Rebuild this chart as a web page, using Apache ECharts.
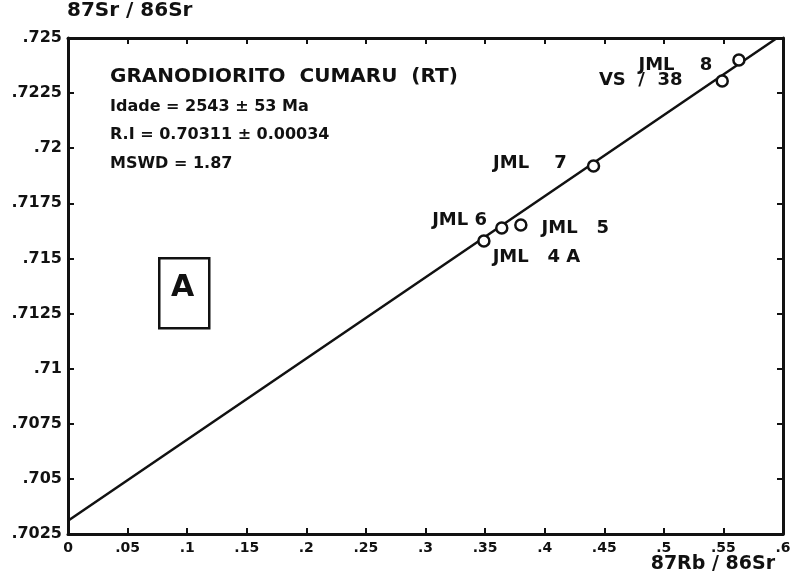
<!DOCTYPE html>
<html>
<head>
<meta charset="utf-8">
<script src="https://cdn.jsdelivr.net/npm/echarts@6/dist/echarts.min.js"></script>
<style>
  html, body { margin: 0; padding: 0; background: #fff; }
  #chart { width: 802px; height: 582px; }
</style>
</head>
<body>
<div id="chart"></div>
<script>
// amostras (87Rb/86Sr, 87Sr/86Sr)
const sampleNames = ['JML   4 A', 'JML 6', 'JML   5', 'JML    7', 'VS  /  38', 'JML    8']
const rbSr = [0.349, 0.364, 0.380, 0.441, 0.549, 0.563]
const srSr = [0.71579, 0.71638, 0.71652, 0.71919, 0.72305, 0.72400]

// isocrona
const isoX = [0, 0.595]
const isoY = [0.7031, 0.725]

const xTickLabels = ['0', '.05', '.1', '.15', '.2', '.25', '.3', '.35', '.4', '.45', '.5', '.55', '.6']
const yTickLabels = ['.7025', '.705', '.7075', '.71', '.7125', '.715', '.7175', '.72', '.7225', '.725']

const infoLines = [
  'GRANODIORITO  CUMARU  (RT)',
  'Idade = 2543 ± 53 Ma',
  'R.I = 0.70311 ± 0.00034',
  'MSWD = 1.87',
]

// posicao dos rotulos (estilo, nao dado)
const labelPlace = [
  {position: 'right', offset: [-3, 16]},
  {position: 'left', offset: [-3, -8]},
  {position: 'right', offset: [9, 3]},
  {position: 'left', offset: [-15, -3]},
  {position: 'left', offset: [-28, -1]},
  {position: 'left', offset: [-15, 5]},
]

const font = '"DejaVu Sans", Verdana, sans-serif'
const black = '#111'

const chart = echarts.init(document.getElementById('chart'))

const axisBase = {
  type: 'value',
  axisLine: {show: true, onZero: false, lineStyle: {color: black, width: 3}},
  axisTick: {show: true, inside: true, length: 6, lineStyle: {color: black, width: 2}},
  splitLine: {show: false},
}

const options = {
  animation: false,
  backgroundColor: '#fff',
  grid: {left: 68, right: 19, top: 38, bottom: 48},
  xAxis: [
    {
      ...axisBase,
      position: 'bottom',
      min: 0,
      max: 0.6,
      interval: 0.05,
      axisLabel: {
        color: black,
        fontFamily: font,
        fontWeight: 'bold',
        fontSize: 14,
        margin: 7,
        formatter: (v, i) => xTickLabels[i],
      },
    },
    {
      ...axisBase,
      position: 'top',
      min: 0,
      max: 0.6,
      interval: 0.05,
      axisLabel: {show: false},
    },
  ],
  yAxis: [
    {
      ...axisBase,
      position: 'left',
      min: 0.7025,
      max: 0.725,
      interval: 0.0025,
      axisLabel: {
        color: black,
        fontFamily: font,
        fontWeight: 'bold',
        fontSize: 16,
        margin: 6,
        formatter: (v, i) => yTickLabels[i],
      },
    },
    {
      ...axisBase,
      position: 'right',
      min: 0.7025,
      max: 0.725,
      interval: 0.0025,
      axisLabel: {show: false},
    },
  ],
  series: [
    {
      type: 'line',
      data: isoX.map((x, i) => [x, isoY[i]]),
      symbol: 'none',
      lineStyle: {color: black, width: 2.5},
      z: 2,
    },
    {
      type: 'scatter',
      data: rbSr.map((x, i) => ({
        value: [x, srSr[i]],
        name: sampleNames[i],
        label: labelPlace[i],
      })),
      symbol: 'circle',
      symbolSize: 11,
      itemStyle: {color: '#fff', borderColor: black, borderWidth: 2.5, opacity: 1},
      label: {
        show: true,
        formatter: (p) => p.name,
        color: black,
        fontFamily: font,
        fontWeight: 'bold',
        fontSize: 18,
        distance: 5,
      },
      z: 3,
    },
  ],
  graphic: [
    {
      type: 'text',
      left: 67,
      top: 1,
      style: {text: '87Sr / 86Sr', fill: black, font: 'bold 20px ' + font},
    },
    {
      type: 'text',
      right: 27,
      top: 555,
      style: {text: '87Rb / 86Sr', fill: black, font: 'bold 19px ' + font},
    },
    {
      type: 'text',
      left: 110,
      top: 67,
      style: {text: infoLines[0], fill: black, font: 'bold 20px ' + font},
    },
    {
      type: 'text',
      left: 110,
      top: 99,
      style: {text: infoLines[1], fill: black, font: 'bold 16px ' + font},
    },
    {
      type: 'text',
      left: 110,
      top: 127,
      style: {text: infoLines[2], fill: black, font: 'bold 16px ' + font},
    },
    {
      type: 'text',
      left: 110,
      top: 156,
      style: {text: infoLines[3], fill: black, font: 'bold 16px ' + font},
    },
    {
      type: 'rect',
      left: 158,
      top: 257,
      shape: {width: 50, height: 70},
      style: {fill: '#fff', stroke: black, lineWidth: 2.5},
    },
    {
      type: 'text',
      left: 171,
      top: 273,
      style: {text: 'A', fill: black, font: 'bold 30px ' + font},
    },
  ],
}

options && chart.setOption(options)
</script>
</body>
</html>
